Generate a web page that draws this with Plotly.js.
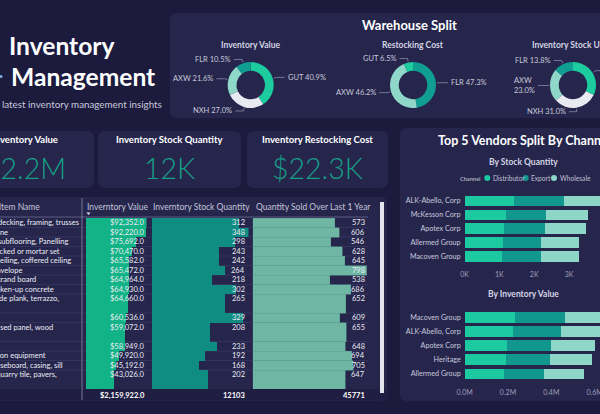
<!DOCTYPE html>
<html><head><meta charset="utf-8">
<script src="https://cdn.plot.ly/plotly-3.0.1.min.js"></script>
<style>html,body{margin:0;padding:0;background:#1c1b3e;overflow:hidden}</style>
</head><body><div id="chart" style="width:600px;height:414px"></div>
<script>
// ---------------- data ----------------
const warehouseLabels1 = ['GUT','NXH','AXW','FLR'];
const inventoryValueShare = [40.9, 27.0, 21.6, 10.5];
const warehouseLabels2 = ['FLR','AXW','GUT'];
const restockingCostShare = [47.3, 46.2, 6.5];
const warehouseLabels3 = ['GUT','NXH','AXW','FLR'];
const stockUnitsShare = [32.2, 31.0, 23.0, 13.8];
const donutTitles = ['Inventory Value','Restocking Cost','Inventory Stock Units'];

const kpiTitles = ['Inventory Value','Inventory Stock Quantity','Inventory Restocking Cost'];
const kpiValues = ['$2.2M','12K','$22.3K'];

const columnHeaders = ['Stock Item Name','Inverntory Value','Inverntory Stock Quantity','Quantity Sold Over Last 1 Year'];
const itemNames = ['Wood decking, framing, trusses','Cut stone','Wood subflooring, Panelling','Dry stacked or mortar set',
  'Beam ceiling, coffered ceiling','Wall envelope','Fiber strand board','Fill, broken-up concrete','Tile, wide plank, terrazzo,',
  'Glass','Flat, raised panel, wood','Steel','Television equipment','Trim baseboard, casing, sill','Brick, quarry tile, pavers,'];
const inventoryValue = [92352,92220,75692,70470,65582,65472,64964,64930,64660,60536,59072,58949,49920,45192,43026];
const stockQuantity = [312,348,298,243,242,264,218,302,265,329,208,233,192,168,202];
const quantitySold = [573,606,546,628,645,798,538,686,652,609,655,648,694,705,647];
const rowLines = [1,1,1,1,1,1,1,1,2,1,2,1,1,1,2];
const totalValue = 2159922.0, totalStock = 12103, totalSold = 45771;

const channels = ['Distributor','Export','Wholesale'];
const vendorsByQty = ['ALK-Abello, Corp','McKesson Corp','Apotex Corp','Allermed Group','Macoven Group'];
const qtyDistributor = [1430,1180,1140,1110,1090];
const qtyExport = [1420,1170,1180,1100,1100];
const qtyWholesale = [1150,1190,1170,1090,1100];
const qtyTickVals = [0,1000,2000,3000];
const qtyTickText = ['0K','1K','2K','3K'];
const vendorsByValue = ['Macoven Group','ALK-Abello, Corp','Apotex Corp','Heritage','Allermed Group'];
const valDistributor = [231000,223000,197000,192000,182000];
const valExport = [234000,223000,203000,200000,184000];
const valWholesale = [215000,214000,200000,196000,185000];
const valTickVals = [0,200000,400000,600000];
const valTickText = ['0.0M','0.2M','0.4M','0.6M'];

// ---------------- styling ----------------
const W=600, H=414;
const px = x => x/W, py = y => 1 - y/H;
const FONT = 'Lato, "Noto Sans", sans-serif';
const BG = '#1c1b3e', PANEL = '#26264d';
const whColor = {GUT:'#1ccc9e', FLR:'#109e92', AXW:'#8fd8c9', NXH:'#e9e9f1'};
const chColor = ['#1dc9a0','#12978f','#8ed6c8'];
const shapes = [], annotations = [], traces = [];

function rr(x0,y0,x1,y1,r,fill){
  const P=(x,y)=>px(x)+','+py(y);
  const path='M'+P(x0+r,y0)+' L'+P(x1-r,y0)+' Q'+P(x1,y0)+' '+P(x1,y0+r)+' L'+P(x1,y1-r)+' Q'+P(x1,y1)+' '+P(x1-r,y1)+
    ' L'+P(x0+r,y1)+' Q'+P(x0,y1)+' '+P(x0,y1-r)+' L'+P(x0,y0+r)+' Q'+P(x0,y0)+' '+P(x0+r,y0)+' Z';
  shapes.push({type:'path',xref:'paper',yref:'paper',path,fillcolor:fill,line:{width:0},layer:'below'});
}
function rect(x0,y0,x1,y1,fill,layer){
  shapes.push({type:'rect',xref:'paper',yref:'paper',x0:px(x0),y0:py(y1),x1:px(x1),y1:py(y0),fillcolor:fill,line:{width:0},layer:layer||'below'});
}
function ln(x0,y0,x1,y1,color,w,layer){
  shapes.push({type:'line',xref:'paper',yref:'paper',x0:px(x0),y0:py(y0),x1:px(x1),y1:py(y1),line:{color,width:w},layer:layer||'above'});
}
function txt(x,y,text,size,color,anchor,extra){
  annotations.push(Object.assign({xref:'paper',yref:'paper',x:px(x),y:py(y),text,showarrow:false,
    xanchor:anchor||'center',yanchor:'middle',font:{size,color,family:FONT}},extra||{}));
}

// panels
rr(170,13,640,118,7,PANEL);
rr(-45,131,94,188,7,PANEL);
rr(98,131,241,188,7,PANEL);
rr(247,131,388,188,7,PANEL);
rr(-20,197,387,401,7,PANEL);
rr(400,128,640,401,7,PANEL);

// header text
txt(7,45,'<b>Inventory</b>',24.6,'#ffffff','left');
txt(9,77,'<b>Management</b>',24.6,'#ffffff','left');
shapes.push({type:'circle',xref:'paper',yref:'paper',x0:px(-0.5),y0:py(78),x1:px(2.5),y1:py(75),fillcolor:'#7fa8d8',line:{width:0}});
txt(164,104,'Get the latest inventory management insights',9.8,'#c8c8da','right');

// warehouse split
txt(409,25,'<b>Warehouse Split</b>',13,'#ffffff');
function donut(labels, values, cx, cy, r, title, wrap){
  traces.push({type:'pie',labels,values,hole:0.62,sort:false,direction:'clockwise',rotation:0,textinfo:'none',
    marker:{colors:labels.map(l=>whColor[l]),line:{width:0}},
    domain:{x:[px(cx-r),px(cx+r)],y:[py(cy+r),py(cy-r)]},hoverinfo:'skip',showlegend:false});
  txt(cx,45,'<b>'+title+'</b>',8.5,'#d4d4e4');
  const total = values.reduce((a,b)=>a+b,0);
  let cum=0;
  labels.forEach((lab,i)=>{
    const mid=(cum+values[i]/2)/total*2*Math.PI; cum+=values[i];
    const sx=cx+(r+1)*Math.sin(mid), sy=cy-(r+1)*Math.cos(mid);
    const ex=cx+(r+4)*Math.sin(mid), ey=cy-(r+4)*Math.cos(mid);
    const right=Math.sin(mid)>0.2;
    const hx = right? ex+8 : ex-8;
    ln(sx,sy,ex,ey,'#8a8aa8',0.8);
    ln(ex,ey,hx,ey,'#8a8aa8',0.8);
    const t = lab + (wrap && wrap.includes(lab) ? '<br>' : ' ') + values[i].toFixed(1) + '%';
    txt(right? hx+1 : hx-1, ey, t, 7.5, '#c8c8da', right?'left':'right', {align:'left'});
  });
}
donut(warehouseLabels1, inventoryValueShare, 250.7, 85, 23, donutTitles[0]);
donut(warehouseLabels2, restockingCostShare, 413, 85, 23, donutTitles[1]);
donut(warehouseLabels3, stockUnitsShare, 573, 85, 23, donutTitles[2], ['AXW']);

// KPI cards
const kpiCenters = [24.5, 169.5, 317.5];
kpiTitles.forEach((t,i)=>{
  txt(kpiCenters[i],140,'<b>'+t+'</b>',9.5,'#ffffff');
  annotations.push({xref:'paper',yref:'paper',x:px(kpiCenters[i]),y:py(168),text:kpiValues[i],showarrow:false,
    xanchor:'center',yanchor:'middle',font:{size:28.5,color:'#16a085',family:FONT,weight:300}});
});

// table
const totalLines = rowLines.reduce((a,b)=>a+b,0);
const rowStart = []; let acc=0;
rowLines.forEach(l=>{rowStart.push(acc); acc+=l;});
const rowCenter = rowStart.map((s,i)=>s+rowLines[i]/2);
const TOP=218, BOT=389;
const lineToPx = l => TOP + (BOT-TOP)*l/totalLines;
rect(-20,389,386,400.5,'#1f1e42');
ln(-20,217,368,217,'#6a6a92',0.8,'below');
rowStart.forEach((s,i)=>{ if(i>0) ln(-20,lineToPx(s),368,lineToPx(s),'#3a3a66',0.7,'below'); });
ln(82,198,82,400,'#8a8aaa',0.8);
const hy=207;
txt(-26,hy,columnHeaders[0],8.5,'#c4c4d8','left');
txt(85,hy,columnHeaders[1],8.5,'#c4c4d8','left');
txt(151,hy,columnHeaders[2],8.5,'#c4c4d8','left');
txt(254,hy,columnHeaders[3],8.5,'#c4c4d8','left');
shapes.push({type:'path',xref:'paper',yref:'paper',path:'M'+px(86.5)+','+py(212.5)+' L'+px(90.5)+','+py(212.5)+' L'+px(88.5)+','+py(215)+' Z',fillcolor:'#e0e0ea',line:{width:0}});

traces.push({type:'bar',orientation:'h',x:inventoryValue,y:rowCenter,width:rowLines,xaxis:'x',yaxis:'y',marker:{color:'#12b386'},hoverinfo:'skip'});
traces.push({type:'bar',orientation:'h',x:stockQuantity,y:rowCenter,width:rowLines,xaxis:'x2',yaxis:'y',marker:{color:'#0f8d82'},hoverinfo:'skip'});
traces.push({type:'bar',orientation:'h',x:quantitySold,y:rowCenter,width:rowLines,xaxis:'x3',yaxis:'y',marker:{color:'#6fb6a4',line:{color:'#5a9e8e',width:0.5}},hoverinfo:'skip'});

const fmtMoney = v => '$'+v.toLocaleString('en-US',{minimumFractionDigits:1,maximumFractionDigits:1});
const cellFont = {size:7.5,color:'#ececf4',family:FONT};
itemNames.forEach((n,i)=>{
  const yy = rowStart[i]+0.5;
  annotations.push({xref:'paper',yref:'y',x:px(-26),y:yy,text:n,showarrow:false,xanchor:'left',yanchor:'middle',font:cellFont});
  annotations.push({xref:'paper',yref:'y',x:px(146.5),y:yy,text:fmtMoney(inventoryValue[i]),showarrow:false,xanchor:'right',yanchor:'middle',font:cellFont});
  annotations.push({xref:'paper',yref:'y',x:px(247),y:yy,text:String(stockQuantity[i]),showarrow:false,xanchor:'right',yanchor:'middle',font:cellFont});
  annotations.push({xref:'paper',yref:'y',x:px(367),y:yy,text:String(quantitySold[i]),showarrow:false,xanchor:'right',yanchor:'middle',font:cellFont});
});
txt(146.5,395,'<b>'+fmtMoney(totalValue)+'</b>',7.5,'#ffffff','right');
txt(247,395,'<b>'+totalStock+'</b>',7.5,'#ffffff','right');
txt(367,395,'<b>'+totalSold+'</b>',7.5,'#ffffff','right');
// scrollbar
rect(380,202,384,393,'#e4e4ee','above');

// vendors
txt(436,141,'<b>Top 5 Vendors Split By Channel</b>',12.5,'#ffffff','left');
txt(523,162,'<b>By Stock Quantity</b>',8.5,'#d4d4e4');
txt(523,294,'<b>By Inventory Value</b>',8.5,'#d4d4e4');
txt(458,178,'<b>Channel</b>',5.6,'#a8a8bc','left');
const legendX = [487.3,525.7,554];
channels.forEach((c,i)=>{
  shapes.push({type:'circle',xref:'paper',yref:'paper',x0:px(legendX[i]-3),y0:py(181),x1:px(legendX[i]+3),y1:py(175),fillcolor:chColor[i],line:{width:0}});
  txt(legendX[i]+3.5,178,c,6.6,'#c0c0d4','left');
});
const qtySeries=[qtyDistributor,qtyExport,qtyWholesale];
const valSeries=[valDistributor,valExport,valWholesale];
channels.forEach((c,i)=>{
  traces.push({type:'bar',orientation:'h',name:c,x:qtySeries[i],y:vendorsByQty,xaxis:'x4',yaxis:'y4',marker:{color:chColor[i]},hoverinfo:'skip'});
  traces.push({type:'bar',orientation:'h',name:c,x:valSeries[i],y:vendorsByValue,xaxis:'x5',yaxis:'y5',marker:{color:chColor[i]},hoverinfo:'skip'});
});

const hid = {visible:false,fixedrange:true};
const vx = {showgrid:false,zeroline:false,showline:false,ticks:'',ticklabeloverflow:'allow',tickfont:{size:7,color:'#9e9eb6',family:FONT},fixedrange:true};
const vy = {showgrid:false,zeroline:false,showline:false,ticks:'',type:'category',tickfont:{size:7.2,color:'#c8c8dc',family:FONT},fixedrange:true};
const layout = {
  width:W,height:H,margin:{l:0,r:0,t:0,b:0},paper_bgcolor:BG,plot_bgcolor:'rgba(0,0,0,0)',
  font:{family:FONT,color:'#d0d0e0',size:8},showlegend:false,barmode:'stack',bargap:0.23,
  xaxis:Object.assign({domain:[px(86),px(146.5)],range:[0,Math.max(...inventoryValue)],anchor:'y'},hid),
  xaxis2:Object.assign({domain:[px(152),px(248.5)],range:[0,Math.max(...stockQuantity)],anchor:'y'},hid),
  xaxis3:Object.assign({domain:[px(252.7),px(366.7)],range:[0,Math.max(...quantitySold)],anchor:'y'},hid),
  yaxis:Object.assign({domain:[py(BOT),py(TOP)],range:[totalLines,0],anchor:'x'},hid),
  xaxis4:Object.assign({domain:[px(464.5),1],range:[0,3890],tickvals:qtyTickVals,ticktext:qtyTickText,anchor:'y4',ticklabelstandoff:5},vx),
  yaxis4:Object.assign({domain:[py(263.5),py(194)],range:[4.5,-0.5],anchor:'x4',ticklabelstandoff:3},vy),
  xaxis5:Object.assign({domain:[px(464.7),1],range:[0,625000],tickvals:valTickVals,ticktext:valTickText,anchor:'y5',ticklabelstandoff:6},vx),
  yaxis5:Object.assign({domain:[py(381),py(310.6)],range:[4.5,-0.5],anchor:'x5',ticklabelstandoff:3},vy),
  shapes, annotations
};
Plotly.newPlot('chart',traces,layout,{displayModeBar:false,staticPlot:true});
</script></body></html>
